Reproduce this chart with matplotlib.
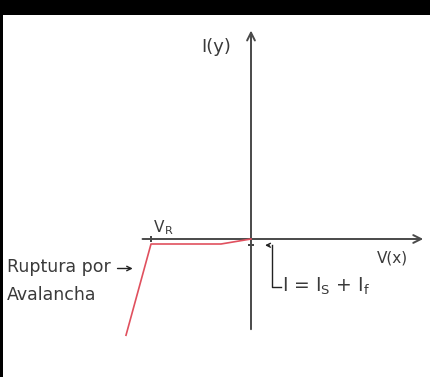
import matplotlib.pyplot as plt
from matplotlib.patches import Rectangle

# curva I-V del diodo en polarizacion inversa (unidades arbitrarias)
volt = [-5.0, -4.0, -1.2, 0.0]
corr = [-3.85, -0.2, -0.2, 0.0]
v_r = -4.0

x_axis = [-4.45, 7.0]
y_axis = [-3.72, 8.45]

txt = '#3a3a3a'
ax_col = '#4a4a4a'

fig = plt.figure(figsize=(4.30, 3.77), dpi=100, facecolor='black')
fig.patches.append(Rectangle((3 / 430, 0), 1, (377 - 15) / 377,
                             transform=fig.transFigure, facecolor='white',
                             edgecolor='none', zorder=-1))

ax = fig.add_axes([0, 0, 1, 1])
ax.set_xlim(-10.04, 7.16)
ax.set_ylim(-5.52, 9.56)
ax.axis('off')

# ejes con flecha
ax.annotate('', xy=(x_axis[1], 0), xytext=(x_axis[0], 0),
            arrowprops=dict(arrowstyle='->', color=ax_col, lw=1.4,
                            mutation_scale=14))
ax.annotate('', xy=(0, y_axis[1]), xytext=(0, y_axis[0]),
            arrowprops=dict(arrowstyle='->', color=ax_col, lw=1.4,
                            mutation_scale=14))

ax.plot(volt, corr, color='#e0505e', lw=1.2, zorder=3)

# marcas
ax.plot([v_r], [0], marker='|', color='#222', ms=5, mew=1.2)
ax.plot([0], [-0.22], marker='_', color='#222', ms=5, mew=1.2)

ax.text(-1.4, 7.7, 'I(y)', fontsize=13, color=txt, ha='center', va='center')
ax.text(v_r + 0.1, 0.45, 'V', fontsize=11, color=txt, ha='left', va='center')
ax.text(v_r + 0.55, 0.3, 'R', fontsize=8, color=txt, ha='left', va='center')
ax.text(5.65, -0.75, 'V(x)', fontsize=11, color=txt, ha='center', va='center')

ax.text(-9.75, -1.12, 'Ruptura por', fontsize=12.5, color=txt, ha='left', va='center')
ax.text(-9.75, -2.25, 'Avalancha', fontsize=12.5, color=txt, ha='left', va='center')
ax.annotate('', xy=(-4.62, -1.18), xytext=(-5.45, -1.18),
            arrowprops=dict(arrowstyle='->', color='#222', lw=1.0,
                            mutation_scale=8))

# corchete I = Is + If
ax.annotate('', xy=(0.45, -0.25), xytext=(0.85, -0.25),
            arrowprops=dict(arrowstyle='->', color='#222', lw=1.0,
                            mutation_scale=7))
ax.plot([0.85, 0.85, 1.2], [-0.25, -1.9, -1.9], color='#222', lw=1.0)
ax.text(1.25, -1.9, r'I = I$_\mathrm{S}$ + I$_\mathrm{f}$', fontsize=13.5,
        color=txt, ha='left', va='center')

fig.savefig('out.png', dpi=100, facecolor='black')
